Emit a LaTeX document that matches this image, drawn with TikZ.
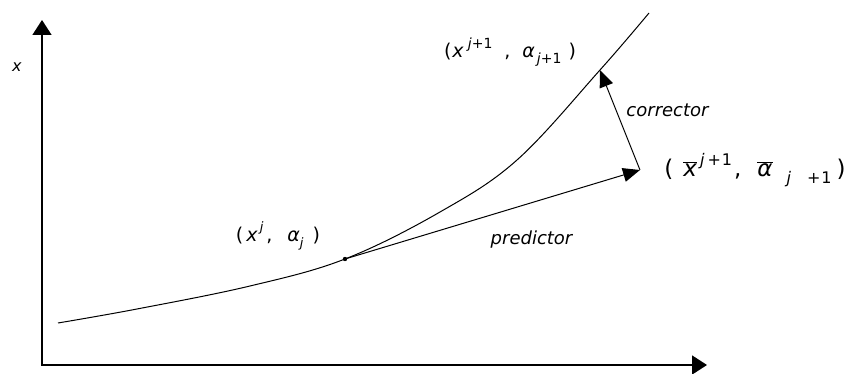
\documentclass[tikz,border=0pt]{standalone}
\usepackage{fontspec}
\setmainfont{DejaVu Sans}
\usepackage{tikz}
\usetikzlibrary{arrows.meta}

\newcommand{\barsym}[1]{\ensuremath{\overline{\mbox{\textit{#1}}}}}
\newcommand{\upidx}[3]{\raisebox{#1}{\fontsize{#2}{#2}\selectfont #3}}

\begin{document}
\begin{tikzpicture}[
  x=1pt, y=1pt,
  font=\fontsize{18}{20}\selectfont,
  lab/.style={inner sep=0pt},
  mid/.style={font=\fontsize{19}{22}\selectfont},
  big/.style={font=\fontsize{23}{26}\selectfont},
  axis/.style={line width=1.6pt, -{Triangle[length=15pt, width=19pt]}},
  stepline/.style={line width=1pt, -{Triangle[length=17pt, width=14pt]}},
  >=Latex
]
\useasboundingbox (0,0) rectangle (855,374);

% --- axes ---
\coordinate (O) at (42,9);
\coordinate (ytop) at (42,354);
\coordinate (xend) at (707,9);
\draw[axis] (O) -- (ytop);
\draw[axis] ([xshift=-0.8pt]O) -- (xend);
\node[lab, font=\fontsize{16}{18}\selectfont] (xlab) at (17,307) {\textit{x}};

% --- solution curve ---
\coordinate (P) at (345,115);      % current point
\coordinate (C) at (600,304);      % corrected point
\coordinate (Q) at (640,204);      % predicted point
\draw[line width=1pt] plot[smooth, tension=0.6] coordinates
  {(58,51) (137,65) (250,88) (P) (440,162) (517,214) (C) (649,361)};
\fill (P) circle (2.2pt);

% --- predictor and corrector steps ---
\draw[stepline] (P) -- (Q);
\draw[stepline] (Q) -- (C);

% --- labels ---
\node[lab, mid] (pj) at (278,138)
  {(\hspace{3pt}\textit{x}\hspace{2pt}\upidx{0.5em}{13}{\textit{j}}\hspace{3pt},\hspace{15pt}\textit{α}\upidx{-0.3em}{13}{\textit{j}}\hspace{9pt})};
\node[lab] (pred) at (532,134) {\textit{predictor}};
\node[lab] (corr) at (668,264) {\textit{corrector}};
\node[lab, mid] (pnext) at (510,322)
  {(\hspace{1pt}\textit{x}\hspace{4pt}\upidx{0.5em}{14}{\textit{j}+1}\hspace{12pt},\hspace{12pt}\textit{α}\hspace{2pt}\upidx{-0.3em}{14}{\textit{j}+1}\hspace{7pt})};
\node[lab, big] (pbar) at (755,204)
  {(\hspace{10pt}\barsym{x}\hspace{3pt}\upidx{0.45em}{16}{\textit{j}\hspace{3pt}+\hspace{1pt}1}\hspace{2pt},\hspace{16pt}\barsym{α}\hspace{14pt}\upidx{-0.3em}{16}{\textit{j}\hspace{16pt}+\hspace{1pt}1}\hspace{5pt})};
\end{tikzpicture}
\end{document}
